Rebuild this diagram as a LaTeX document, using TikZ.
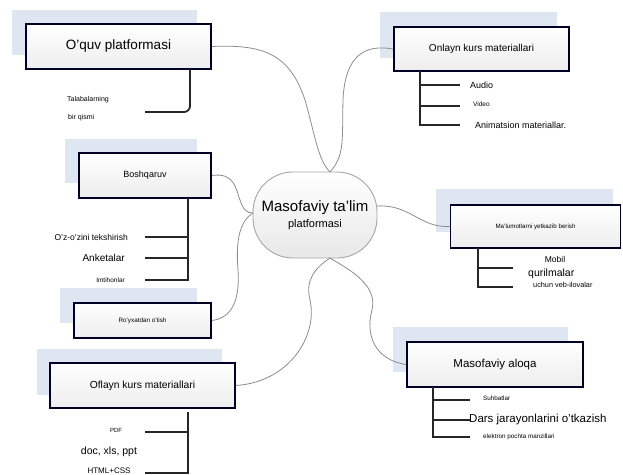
\documentclass[tikz,border=0pt]{standalone}
\usepackage{fontspec}
\setmainfont{Liberation Sans}
\definecolor{shadowblue}{RGB}{221,230,241}
\definecolor{linkgray}{RGB}{140,140,140}
\begin{document}
\begin{tikzpicture}[x=1pt,y=-1pt,
  fs/.style={font=\fontsize{#1}{#1}\selectfont},
  shadowrect/.style={fill=shadowblue,draw=none},
  topicbox/.style={draw=black!85!blue,line width=1.8pt,top color=white,bottom color=gray!14,inner sep=0pt,anchor=center},
  link/.style={draw=linkgray,line width=0.8pt},
  branch/.style={draw=black!85,line width=1.8pt},
  leaf/.style={inner sep=0pt}]
\useasboundingbox (0,0) rectangle (623,474);
% shadows
\fill[shadowblue] (12,10) rectangle (197,55);
\fill[shadowblue] (380,12) rectangle (557,58);
\fill[shadowblue] (65,139) rectangle (197,183);
\fill[shadowblue] (60,288) rectangle (197,323);
\fill[shadowblue] (37,349) rectangle (222,395);
\fill[shadowblue] (436,189) rectangle (613,232);
\fill[shadowblue] (393,327) rectangle (568,372);
% central node
\node[draw=gray!70,line width=0.9pt,rounded corners=40pt,top color=white,bottom color=gray!18,
  minimum width=124pt,minimum height=86pt,inner sep=0pt,align=center] (c) at (315,215)
  {{\fontsize{15}{15}\selectfont Masofaviy ta'lim}\\[4pt]{\fontsize{11}{11}\selectfont platformasi}};
\coordinate (ctop) at (330,172);
\coordinate (cbot) at (330,258);
\coordinate (cleft) at (253,213);
\coordinate (cright) at (377,206);
% topic boxes
\node[topicbox,minimum width=185pt,minimum height=45pt,fs=13.5] (q) at (118.5,46.5) {O'quv platformasi};
\node[topicbox,minimum width=175pt,minimum height=44pt,fs=10] (o) at (481.5,49) {Onlayn kurs materiallari};
\node[topicbox,minimum width=132pt,minimum height=45pt,fs=9] (b) at (145,175.5) {Boshqaruv};
\node[topicbox,minimum width=137pt,minimum height=35pt,fs=6.3] (r) at (142.5,320.5) {Ro'yxatdan o'tish};
\node[topicbox,minimum width=185pt,minimum height=45pt,fs=10.3] (f) at (142.5,385.5) {Oflayn kurs materiallari};
\node[topicbox,minimum width=170pt,minimum height=43pt,fs=6.2] (m) at (535.5,226.5) {Ma'lumotlarni yetkazib berish};
\node[topicbox,minimum width=176pt,minimum height=45pt,fs=11.5] (a) at (495,364.5) {Masofaviy aloqa};
% links to centre
\draw[link] (q.east) .. controls (265,44) and (290,55) .. (305,100) .. controls (315,135) and (318,160) .. (ctop);
\draw[link] (o.west) .. controls (365,44) and (345,55) .. (343,100) .. controls (342,140) and (345,155) .. (ctop);
\draw[link] (b.east) .. controls (235,172) and (236,190) .. (240,200) .. controls (243,210) and (247,213) .. (cleft);
\draw[link] (cleft) .. controls (238,222) and (236,245) .. (238,270) .. controls (240,300) and (232,318) .. (r.east);
\draw[link] (cbot) .. controls (315,268) and (305,280) .. (310,300) .. controls (318,335) and (290,382) .. (f.east);
\draw[link] (cbot) .. controls (350,270) and (378,285) .. (372,310) .. controls (365,335) and (375,360) .. (a.west);
\draw[link] (cright) .. controls (410,204) and (420,228) .. (m.west);
% leaves: O'quv platformasi
\node[leaf,fs=7,anchor=west] (q1) at (67,100) {Talabalarning};
\node[leaf,fs=7,anchor=west] (q2) at (68,118) {bir qismi};
\coordinate (qt) at (190,69);
\coordinate (qe) at (145,112);
\draw[branch,rounded corners=6pt] (qt) |- (qe);
% Onlayn
\node[leaf,fs=9,anchor=west] (o1) at (470,85) {Audio};
\node[leaf,fs=6.5,anchor=west] (o2) at (473,104) {Video};
\node[leaf,fs=9,anchor=west] (o3) at (475,125) {Animatsion materiallar.};
\coordinate (ot) at (420,71);
\draw[branch] (ot) |- (460,125);
\draw[branch] (420,85) -- (460,85);
\draw[branch] (420,106) -- (460,106);
% Boshqaruv
\node[leaf,fs=8.5,anchor=east] (b1) at (128,237) {O'z-o'zini tekshirish};
\node[leaf,fs=10,anchor=east] (b2) at (125,258) {Anketalar};
\node[leaf,fs=6.5,anchor=east] (b3) at (125,280) {Imtihonlar};
\coordinate (bt) at (188,198);
\draw[branch] (bt) |- (145,280);
\draw[branch] (188,237) -- (145,237);
\draw[branch] (188,258) -- (145,258);
% Oflayn
\node[leaf,fs=6,anchor=center] (f1) at (116,430) {PDF};
\node[leaf,fs=10.5,anchor=center] (f2) at (109,452) {doc, xls, ppt};
\node[leaf,fs=8,anchor=center] (f3) at (109,471) {HTML+CSS};
\coordinate (ft) at (188,412);
\draw[branch] (ft) |- (145,473);
\draw[branch] (188,432) -- (145,432);
% Ma'lumotlarni
\node[leaf,fs=8.5,anchor=center] (m1) at (555,259) {Mobil};
\node[leaf,fs=10.5,anchor=west] (m2) at (528,274) {qurilmalar};
\node[leaf,fs=7.3,anchor=west] (m3) at (533,285) {uchun veb-ilovalar};
\coordinate (mt) at (478,248);
\draw[branch] (mt) |- (513,287);
\draw[branch] (478,268) -- (513,268);
% Masofaviy aloqa
\node[leaf,fs=6.3,anchor=west] (a1) at (483,398) {Suhbatlar};
\node[leaf,fs=11.5,anchor=west] (a2) at (469,420) {Dars jarayonlarini o'tkazish};
\node[leaf,fs=6.3,anchor=west] (a3) at (483,437) {elektron pochta manzillari};
\coordinate (at) at (433,387);
\draw[branch] (at) |- (470,437);
\draw[branch] (433,400) -- (470,400);
\draw[branch] (433,420) -- (470,420);
\end{tikzpicture}
\end{document}
